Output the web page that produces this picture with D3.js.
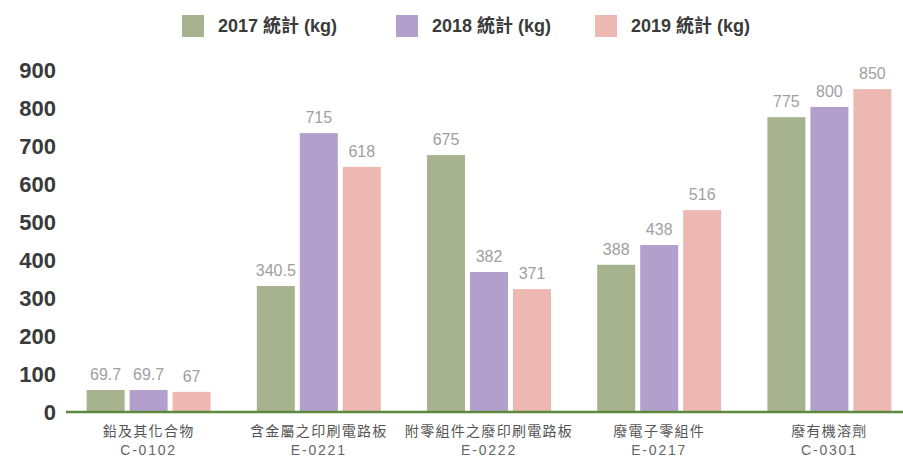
<!DOCTYPE html>
<html>
<head>
<meta charset="utf-8">
<script src="https://cdn.jsdelivr.net/npm/d3@7"></script>
<style>
  body { margin: 0; background: #fff; }
  text { font-family: "Liberation Sans", Arial, "Noto Sans CJK TC", sans-serif; }
</style>
</head>
<body>
<div id="chart"></div>
<script>
const categories = ["鉛及其化合物", "含金屬之印刷電路板", "附零組件之廢印刷電路板", "廢電子零組件", "廢有機溶劑"];
const codes = ["C-0102", "E-0221", "E-0222", "E-0217", "C-0301"];
const seriesNames = ["2017 統計 (kg)", "2018 統計 (kg)", "2019 統計 (kg)"];
// bar heights as drawn
const values2017 = [58, 332, 677, 388, 777];
const values2018 = [58, 735, 369, 440, 804];
const values2019 = [53, 646, 324, 532, 851];
// labels as printed above bars
const labels2017 = ["69.7", "340.5", "675", "388", "775"];
const labels2018 = ["69.7", "715", "382", "438", "800"];
const labels2019 = ["67", "618", "371", "516", "850"];
const yTicks = [0, 100, 200, 300, 400, 500, 600, 700, 800, 900];
const colors = ["#a6b38e", "#b39fcc", "#edb8b2"];

const W = 903, H = 458;
const values = [values2017, values2018, values2019];
const labels = [labels2017, labels2018, labels2019];

const svg = d3.select('#chart').append('svg')
  .attr('width', W)
  .attr('height', H)
  .style('display', 'block');

const x0 = d3.scaleBand()
  .domain(categories)
  .range([63.5, 914.5])
  .padding(0);

const x1 = d3.scaleBand()
  .domain(d3.range(3))
  .range([-62, 62])
  .paddingInner(0.116);

const y = d3.scaleLinear()
  .domain([0, 900])
  .range([412, 70.5]);

// y axis labels
svg.append('g')
  .selectAll('text')
  .data(yTicks)
  .enter().append('text')
  .attr('x', 56)
  .attr('y', d => y(d))
  .attr('dy', '0.36em')
  .attr('text-anchor', 'end')
  .style('font-size', '22px')
  .style('font-weight', 'bold')
  .style('fill', '#3a3a3a')
  .text(d => d);

// bars
const groups = svg.selectAll('.group')
  .data(categories)
  .enter().append('g')
  .attr('class', 'group')
  .attr('transform', d => `translate(${x0(d) + x0.bandwidth() / 2},0)`);

groups.each(function (cat, ci) {
  const g = d3.select(this);
  const rows = d3.range(3).map(si => ({ si, v: values[si][ci], label: labels[si][ci] }));
  g.selectAll('rect')
    .data(rows)
    .enter().append('rect')
    .attr('x', d => x1(d.si))
    .attr('y', d => y(d.v))
    .attr('width', x1.bandwidth())
    .attr('height', d => y(0) - y(d.v))
    .style('fill', d => colors[d.si]);

  g.selectAll('text.val')
    .data(rows)
    .enter().append('text')
    .attr('class', 'val')
    .attr('x', d => x1(d.si) + x1.bandwidth() / 2)
    .attr('y', d => y(d.v) - 10)
    .attr('text-anchor', 'middle')
    .style('font-size', '16px')
    .style('fill', '#a0a0a0')
    .text(d => d.label);

  g.append('text')
    .attr('x', 0)
    .attr('y', 436)
    .attr('text-anchor', 'middle')
    .style('font-size', '14px')
    .style('letter-spacing', '1.3px')
    .style('fill', '#555')
    .text(cat);

  g.append('text')
    .attr('x', 0)
    .attr('y', 455)
    .attr('text-anchor', 'middle')
    .style('font-size', '14px')
    .style('letter-spacing', '1.8px')
    .style('fill', '#666')
    .text(codes[ci]);
});

// baseline
svg.append('line')
  .attr('x1', 66)
  .attr('x2', W)
  .attr('y1', y(0))
  .attr('y2', y(0))
  .style('stroke', '#5b8a3f')
  .style('stroke-width', 2.5);

// legend
const legendX = [182, 396, 595];
const legend = svg.append('g').attr('class', 'legend');
legend.selectAll('rect')
  .data(seriesNames)
  .enter().append('rect')
  .attr('x', (d, i) => legendX[i])
  .attr('y', 15)
  .attr('width', 22)
  .attr('height', 22)
  .style('fill', (d, i) => colors[i]);

legend.selectAll('text')
  .data(seriesNames)
  .enter().append('text')
  .attr('x', (d, i) => legendX[i] + 36)
  .attr('y', 26)
  .attr('dy', '0.36em')
  .style('font-size', '18px')
  .style('font-weight', 'bold')
  .style('fill', '#3a3a3a')
  .text(d => d);
</script>
</body>
</html>
